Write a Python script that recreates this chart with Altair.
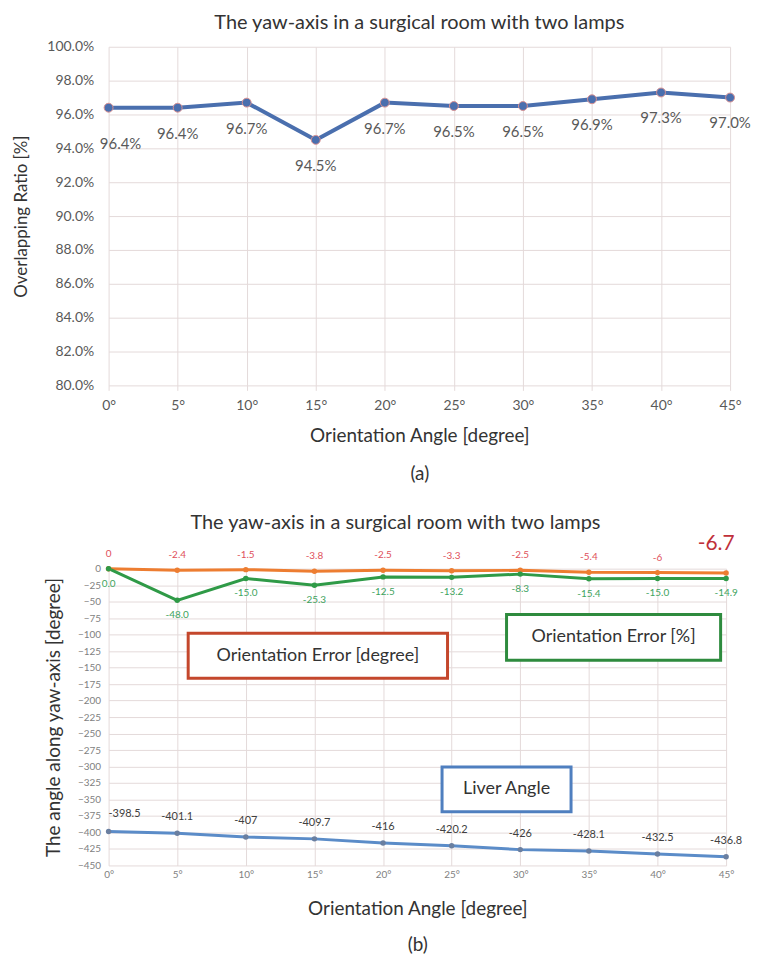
import altair as alt
import pandas as pd

# ---------------- data ----------------
angles = [0, 5, 10, 15, 20, 25, 30, 35, 40, 45]
overlap_pct = [96.4, 96.4, 96.7, 94.5, 96.7, 96.5, 96.5, 96.9, 97.3, 97.0]

err_degree = [0, -2.4, -1.5, -3.8, -2.5, -3.3, -2.5, -5.4, -6, -6.7]
err_percent = [0.0, -48.0, -15.0, -25.3, -12.5, -13.2, -8.3, -15.4, -15.0, -14.9]
liver_angle = [-398.5, -401.1, -407, -409.7, -416, -420.2, -426, -428.1, -432.5, -436.8]

top_yticks = [80, 82, 84, 86, 88, 90, 92, 94, 96, 98, 100]
bottom_yticks = list(range(-450, 1, 25))

title_text = "The yaw-axis in a surgical room with two lamps"

box_names = ["Orientation Error [degree]", "Orientation Error [%]", "Liver Angle"]
box_x = [5.8, 29.0, 24.3]
box_x2 = [24.7, 44.6, 33.7]
box_y = [-98, -69.5, -300.6]
box_y2 = [-166, -139, -368.6]
box_colors = ["#C4472C", "#2E8B3E", "#4F7FBF"]

FONT = "Lato"
GRID = "#E4DADA"
LABEL = "#595959"

# ---------------- top chart (a) ----------------
top_df = pd.DataFrame({
    "angle": angles,
    "ratio": overlap_pct,
    "label": [f"{v:.1f}%" for v in overlap_pct],
})

W1, H1 = 624, 340
xaxis1 = alt.Axis(values=angles, labelExpr="datum.value + '°'",
                  title=["Orientation Angle [degree]", "(a)"],
                  titleFontSize=19, titleFontWeight="normal", titleColor="#333333",
                  titleFont=FONT, titleLineHeight=38, titlePadding=14,
                  labelFontSize=14, labelColor=LABEL, labelFont=FONT,
                  labelPadding=8, tickSize=5, tickColor=GRID, labelFlush=False,
                  labelOverlap=False, grid=True, gridColor=GRID, domain=False)
yaxis1 = alt.Axis(values=top_yticks, labelExpr="format(datum.value, '.1f') + '%'",
                  title="Overlapping Ratio [%]", titleFontSize=17,
                  titleFontWeight="normal", titleColor="#333333", titleFont=FONT,
                  titlePadding=16, labelFontSize=14, labelColor=LABEL,
                  labelFont=FONT, labelPadding=15, ticks=False, labelOverlap=False,
                  grid=True, gridColor=GRID, domain=False)
x1 = alt.X("angle:Q", scale=alt.Scale(domain=[0, 45], nice=False), axis=xaxis1)
y1 = alt.Y("ratio:Q", scale=alt.Scale(domain=[80, 100], nice=False, zero=False), axis=yaxis1)

line1 = alt.Chart(top_df).mark_line(color="#4A6FAE", strokeWidth=4).encode(x=x1, y=y1)
pts1 = alt.Chart(top_df).mark_point(filled=True, size=80, color="#4A6FAE",
                                    stroke="#D99090", strokeWidth=1, opacity=1).encode(x=x1, y=y1)
lab1 = alt.Chart(top_df).transform_filter("datum.angle > 0").mark_text(
    dy=26, fontSize=15, font=FONT, color=LABEL).encode(x=x1, y=y1, text="label:N")
lab1a = alt.Chart(top_df).transform_filter("datum.angle == 0").mark_text(
    dx=12, dy=36, fontSize=15, font=FONT, color=LABEL).encode(x=x1, y=y1, text="label:N")

top = alt.layer(line1, pts1, lab1, lab1a).properties(
    width=W1, height=H1,
    title=alt.TitleParams(title_text, fontSize=20, font=FONT, fontWeight="normal",
                          color="#333333", offset=7))

# ---------------- bottom chart (b) ----------------
bot_df = pd.DataFrame({
    "angle": angles,
    "err_deg": err_degree,
    "err_pct": err_percent,
    "liver": liver_angle,
    "lab_deg": [f"{v:g}" for v in err_degree],
    "lab_pct": [f"{v:.1f}" for v in err_percent],
    "lab_liver": [f"{v:g}" for v in liver_angle],
})
box_df = pd.DataFrame({"name": box_names, "x": box_x, "x2": box_x2,
                       "y": box_y, "y2": box_y2, "color": box_colors})
box_df["cx"] = (box_df["x"] + box_df["x2"]) / 2
box_df["cy"] = (box_df["y"] + box_df["y2"]) / 2

W2, H2 = 620, 298
xs = alt.Scale(domain=[0, 45], nice=False)
ys = alt.Scale(domain=[-450, 0], nice=False)
xaxis2 = alt.Axis(values=angles, labelExpr="datum.value + '°'",
                  title=["Orientation Angle [degree]", "(b)"],
                  titleFontSize=19, titleFontWeight="normal", titleColor="#333333",
                  titleFont=FONT, titleLineHeight=36, titlePadding=20,
                  labelFontSize=10, labelColor="#7F7F7F", labelFont=FONT,
                  labelPadding=4, ticks=False, labelFlush=False, labelOverlap=False,
                  grid=True, gridColor=GRID, domain=False)
yaxis2 = alt.Axis(values=bottom_yticks, title="The angle along yaw-axis [degree]",
                  titleFontSize=19, titleFontWeight="normal", titleColor="#333333",
                  titleFont=FONT, titlePadding=14, labelFontSize=10,
                  labelColor="#7F7F7F", labelFont=FONT, labelPadding=8,
                  labelOverlap=False, ticks=False, grid=True, gridColor=GRID, domain=False)


def X2(field):
    return alt.X(field, type="quantitative", scale=xs, axis=xaxis2)


def Y2(field):
    return alt.Y(field, type="quantitative", scale=ys, axis=yaxis2)


base2 = alt.Chart(bot_df)
l_deg = base2.mark_line(color="#ED7D31", strokeWidth=3).encode(x=X2("angle"), y=Y2("err_deg"))
p_deg = base2.mark_circle(color="#ED7D31", size=30, opacity=1).encode(x=X2("angle"), y=Y2("err_deg"))
t_deg = base2.transform_filter("datum.angle < 45").mark_text(
    dy=-15, fontSize=10, font=FONT, color="#E0505A").encode(x=X2("angle"), y=Y2("err_deg"), text="lab_deg:N")
t_deg_last = base2.transform_filter("datum.angle == 45").mark_text(
    dx=-10, dy=-29, fontSize=21, font=FONT, color="#C0303A").encode(x=X2("angle"), y=Y2("err_deg"), text="lab_deg:N")

l_pct = base2.mark_line(color="#2F9A47", strokeWidth=3).encode(x=X2("angle"), y=Y2("err_pct"))
p_pct = base2.mark_circle(color="#2F9A47", size=30, opacity=1).encode(x=X2("angle"), y=Y2("err_pct"))
t_pct = base2.mark_text(dy=15, fontSize=10, font=FONT, color="#3DA35D").encode(
    x=X2("angle"), y=Y2("err_pct"), text="lab_pct:N")

l_liv = base2.mark_line(color="#5B8CC8", strokeWidth=3).encode(x=X2("angle"), y=Y2("liver"))
p_liv = base2.mark_circle(color="#6A7FA0", size=30, opacity=1).encode(x=X2("angle"), y=Y2("liver"))
t_liv = base2.transform_filter("datum.angle > 0").mark_text(
    dy=-16, fontSize=11, font=FONT, color="#404040").encode(x=X2("angle"), y=Y2("liver"), text="lab_liver:N")
t_liv0 = base2.transform_filter("datum.angle == 0").mark_text(
    dx=16, dy=-18, fontSize=11, font=FONT, color="#404040").encode(x=X2("angle"), y=Y2("liver"), text="lab_liver:N")

boxes = alt.Chart(box_df).mark_rect(fill="white", strokeWidth=3).encode(
    x=X2("x"), x2="x2:Q", y=Y2("y"), y2="y2:Q",
    stroke=alt.Stroke("color:N", scale=None))
box_txt = alt.Chart(box_df).mark_text(fontSize=18, font=FONT, color="#333333").encode(
    x=X2("cx"), y=Y2("cy"), text="name:N")

bottom = alt.layer(l_deg, l_pct, l_liv, p_deg, p_pct, p_liv,
                   t_deg, t_deg_last, t_pct, t_liv, t_liv0, boxes, box_txt).properties(
    width=W2, height=H2,
    title=alt.TitleParams(title_text, fontSize=20, font=FONT, fontWeight="normal",
                          color="#333333", offset=0, dx=-22))

chart = alt.vconcat(top, bottom, spacing=30).configure(
    padding={"left": 4, "top": 3, "right": 0, "bottom": 0},
    background="white",
).configure_view(stroke=None)

chart.save("out.html", embed_options={"renderer": "svg", "actions": False})
